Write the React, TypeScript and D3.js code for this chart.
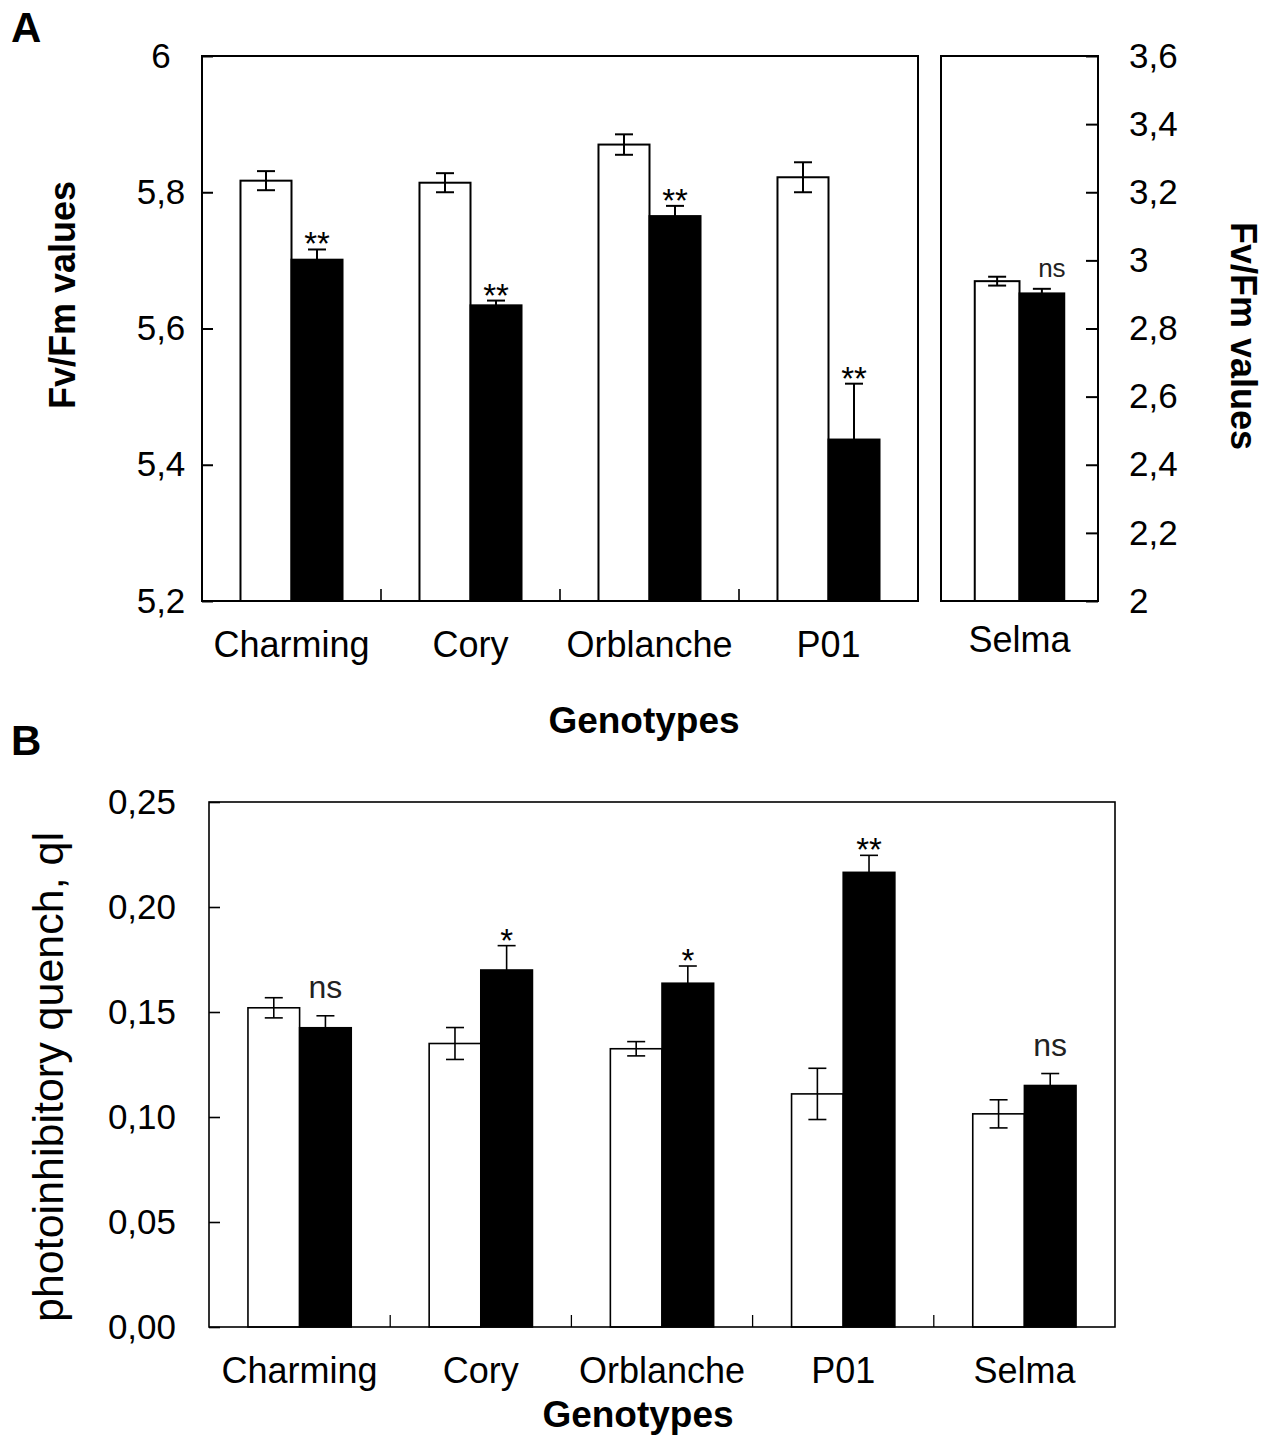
import React, { useEffect, useRef } from 'react';
import * as d3 from 'd3';

// panel A: Fv/Fm (left axis)
const genotypesA = ['Charming', 'Cory', 'Orblanche', 'P01'];
const fvfmControl = [5.817, 5.814, 5.870, 5.822];
const fvfmControlErr = [0.014, 0.014, 0.015, 0.022];
const fvfmStress = [5.701, 5.634, 5.765, 5.437];
const fvfmStressErr = [0.015, 0.007, 0.015, 0.082];
const fvfmSig = ['**', '**', '**', '**'];
const ticksA = [5.2, 5.4, 5.6, 5.8, 6];

// panel A: Fv/Fm (right axis, Selma)
const genotypesARight = ['Selma'];
const fvfmRightControl = [2.939];
const fvfmRightControlErr = [0.013];
const fvfmRightStress = [2.903];
const fvfmRightStressErr = [0.0135];
const fvfmRightSig = ['ns'];
const ticksARight = [2, 2.2, 2.4, 2.6, 2.8, 3, 3.2, 3.4, 3.6];

// panel B: photoinhibitory quench
const genotypesB = ['Charming', 'Cory', 'Orblanche', 'P01', 'Selma'];
const qiControl = [0.152, 0.135, 0.1325, 0.111, 0.1015];
const qiControlErr = [0.0048, 0.0076, 0.0034, 0.0122, 0.0067];
const qiStress = [0.1425, 0.170, 0.1637, 0.2165, 0.115];
const qiStressErr = [0.0057, 0.0116, 0.0082, 0.0081, 0.0057];
const qiSig = ['ns', '*', '*', '**', 'ns'];
const ticksB = [0, 0.05, 0.1, 0.15, 0.2, 0.25];

const FONT = '"Liberation Sans", Arial, sans-serif';

type PanelOpts = {
  cats: string[];
  control: number[];
  controlErr: number[];
  stress: number[];
  stressErr: number[];
  sig: string[];
  x0: number;
  x1: number;
  y: d3.ScaleLinear<number, number>;
  sw: number;
  labelY: number;
  nsSize: number;
  nsOffset: number;
  nsDx: number;
};

const App: React.FC = () => {
  const svgRef = useRef<SVGSVGElement | null>(null);

  useEffect(() => {
    if (!svgRef.current) return;
    const W = 1267;
    const H = 1438;
    const svg = d3.select(svgRef.current).attr('width', W).attr('height', H);
    svg.selectAll('*').remove();
    svg.append('rect').attr('width', W).attr('height', H).attr('fill', '#fff');

    const drawPanel = (o: PanelOpts) => {
      const g = svg.append('g');
      const [yb, yt] = o.y.range();
      const x = d3.scaleBand<string>()
        .domain(o.cats)
        .range([o.x0, o.x1])
        .paddingInner(0.43)
        .paddingOuter(0.215);
      const xs = d3.scaleBand<string>()
        .domain(['control', 'stress'])
        .range([0, x.bandwidth()]);
      const cap = 9;

      // category boundary ticks (inward)
      d3.range(1, o.cats.length).forEach(i => {
        const bx = o.x0 + i * x.step();
        g.append('line')
          .attr('x1', bx).attr('x2', bx)
          .attr('y1', yb).attr('y2', yb - 12)
          .attr('stroke', '#000').attr('stroke-width', o.sw * 0.8);
      });

      o.cats.forEach((c, i) => {
        const series = [
          { key: 'control', v: o.control[i], e: o.controlErr[i], fill: '#fff' },
          { key: 'stress', v: o.stress[i], e: o.stressErr[i], fill: '#000' },
        ];
        series.forEach(s => {
          const bx = x(c)! + xs(s.key)!;
          g.append('rect')
            .attr('x', bx)
            .attr('y', o.y(s.v))
            .attr('width', xs.bandwidth())
            .attr('height', yb - o.y(s.v))
            .attr('fill', s.fill)
            .attr('stroke', '#000')
            .attr('stroke-width', o.sw);
        });
        series.forEach(s => {
          const cx = x(c)! + xs(s.key)! + xs.bandwidth() / 2;
          const hi = o.y(s.v + s.e);
          const lo = o.y(s.v - s.e);
          g.append('line').attr('x1', cx).attr('x2', cx).attr('y1', hi).attr('y2', lo)
            .attr('stroke', '#000').attr('stroke-width', o.sw);
          [hi, lo].forEach(yy => {
            g.append('line').attr('x1', cx - cap).attr('x2', cx + cap).attr('y1', yy).attr('y2', yy)
              .attr('stroke', '#000').attr('stroke-width', o.sw);
          });
        });
        // significance mark above stress bar
        const sx = x(c)! + xs('stress')! + xs.bandwidth() / 2;
        const top = o.y(o.stress[i] + o.stressErr[i]);
        const isNs = o.sig[i] === 'ns';
        g.append('text')
          .attr('x', isNs ? sx + o.nsDx : sx)
          .attr('y', isNs ? top - o.nsOffset : top + 6)
          .attr('text-anchor', 'middle')
          .attr('font-family', FONT)
          .attr('font-size', isNs ? o.nsSize : 33)
          .attr('fill', isNs ? '#222' : '#000')
          .text(o.sig[i]);

        // category label
        g.append('text')
          .attr('x', x(c)! + x.bandwidth() / 2)
          .attr('y', o.labelY)
          .attr('text-anchor', 'middle')
          .attr('font-family', FONT)
          .attr('font-size', 36)
          .text(c);
      });

      // frame
      g.append('rect')
        .attr('x', o.x0).attr('y', yt)
        .attr('width', o.x1 - o.x0).attr('height', yb - yt)
        .attr('fill', 'none').attr('stroke', '#000').attr('stroke-width', o.sw);
    };

    const styleAxis = (ax: d3.Selection<SVGGElement, unknown, null, undefined>, sw: number) => {
      ax.select('.domain').remove();
      ax.selectAll('line').attr('stroke', '#000').attr('stroke-width', sw);
      ax.selectAll('text').attr('font-family', FONT).attr('font-size', 35).attr('fill', '#000');
    };

    // ---------- Panel A ----------
    const yA = d3.scaleLinear().domain([5.2, 6]).range([601, 56]);
    const yAR = d3.scaleLinear().domain([2, 3.6]).range([601, 56]);
    const fmtA = (v: d3.NumberValue) => String(+(+v).toFixed(1)).replace('.', ',');

    drawPanel({
      cats: genotypesA, control: fvfmControl, controlErr: fvfmControlErr,
      stress: fvfmStress, stressErr: fvfmStressErr, sig: fvfmSig,
      x0: 202, x1: 918, y: yA, sw: 2, labelY: 657, nsSize: 26, nsOffset: 12, nsDx: 10,
    });
    drawPanel({
      cats: genotypesARight, control: fvfmRightControl, controlErr: fvfmRightControlErr,
      stress: fvfmRightStress, stressErr: fvfmRightStressErr, sig: fvfmRightSig,
      x0: 941, x1: 1098, y: yAR, sw: 2, labelY: 652, nsSize: 26, nsOffset: 12, nsDx: 10,
    });

    const axL = svg.append('g').attr('transform', 'translate(202,0)')
      .call(d3.axisLeft(yA).tickValues(ticksA).tickFormat(fmtA).tickSizeInner(-11).tickSizeOuter(0).tickPadding(41));
    styleAxis(axL, 2);
    // left tick labels are centred in the reference
    axL.selectAll('text').attr('text-anchor', 'middle');
    const axR = svg.append('g').attr('transform', 'translate(1098,0)')
      .call(d3.axisRight(yAR).tickValues(ticksARight).tickFormat(fmtA).tickSizeInner(-12).tickSizeOuter(0).tickPadding(31));
    styleAxis(axR, 2);

    svg.append('text')
      .attr('transform', 'translate(75,295) rotate(-90)')
      .attr('text-anchor', 'middle')
      .attr('font-family', FONT).attr('font-weight', 'bold').attr('font-size', 36)
      .text('Fv/Fm values');
    svg.append('text')
      .attr('transform', 'translate(1231,336) rotate(90)')
      .attr('text-anchor', 'middle')
      .attr('font-family', FONT).attr('font-weight', 'bold').attr('font-size', 36)
      .text('Fv/Fm values');
    svg.append('text')
      .attr('x', 644).attr('y', 733)
      .attr('text-anchor', 'middle')
      .attr('font-family', FONT).attr('font-weight', 'bold').attr('font-size', 37)
      .text('Genotypes');
    svg.append('text')
      .attr('x', 11).attr('y', 42)
      .attr('font-family', FONT).attr('font-weight', 'bold').attr('font-size', 42)
      .text('A');

    // ---------- Panel B ----------
    const yB = d3.scaleLinear().domain([0, 0.25]).range([1327, 802]);
    const fmtB = (v: d3.NumberValue) => (+v).toFixed(2).replace('.', ',');

    drawPanel({
      cats: genotypesB, control: qiControl, controlErr: qiControlErr,
      stress: qiStress, stressErr: qiStressErr, sig: qiSig,
      x0: 209, x1: 1115, y: yB, sw: 1.6, labelY: 1383, nsSize: 32, nsOffset: 18, nsDx: 0,
    });

    const axB = svg.append('g').attr('transform', 'translate(209,0)')
      .call(d3.axisLeft(yB).tickValues(ticksB).tickFormat(fmtB).tickSizeInner(-11).tickSizeOuter(0).tickPadding(33));
    styleAxis(axB, 1.6);

    svg.append('text')
      .attr('transform', 'translate(63,1077) rotate(-90)')
      .attr('text-anchor', 'middle')
      .attr('font-family', FONT).attr('font-size', 43)
      .text('photoinhibitory quench, ql');
    svg.append('text')
      .attr('x', 638).attr('y', 1427)
      .attr('text-anchor', 'middle')
      .attr('font-family', FONT).attr('font-weight', 'bold').attr('font-size', 37)
      .text('Genotypes');
    svg.append('text')
      .attr('x', 11).attr('y', 755)
      .attr('font-family', FONT).attr('font-weight', 'bold').attr('font-size', 42)
      .text('B');
  }, []);

  return (
    <div style={{ position: 'absolute', left: 0, top: 0 }}>
      <svg ref={svgRef} style={{ display: 'block' }} />
    </div>
  );
};

export default App;
